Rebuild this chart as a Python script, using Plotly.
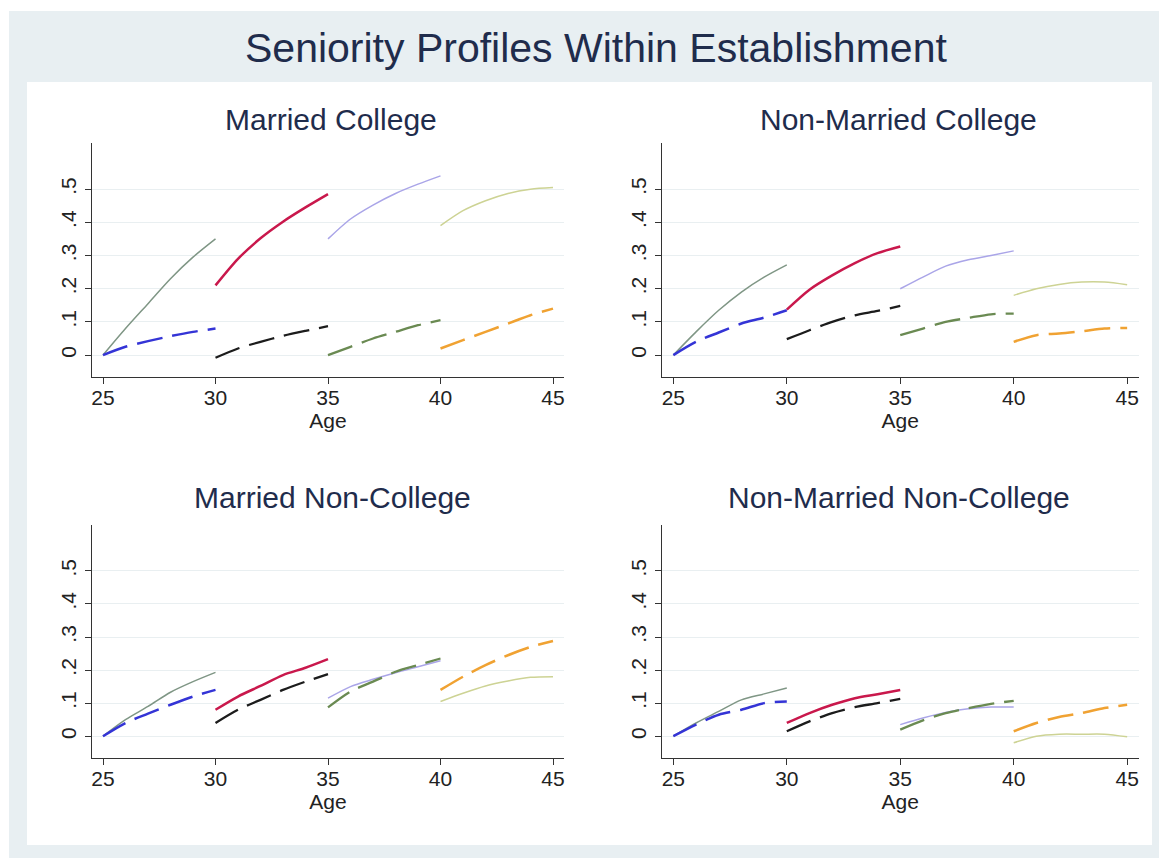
import plotly.graph_objects as go

# ---------------- data ----------------
panel_titles = ["Married College", "Non-Married College",
                "Married Non-College", "Non-Married Non-College"]

ages_25 = [25, 26, 27, 28, 29, 30]
ages_30 = [30, 31, 32, 33, 34, 35]
ages_35 = [35, 36, 37, 38, 39, 40]
ages_40 = [40, 41, 42, 43, 44, 45]

x_ticks = [25, 30, 35, 40, 45]
y_ticks = [0, 0.1, 0.2, 0.3, 0.4, 0.5]
y_tick_labels = ["0", ".1", ".2", ".3", ".4", ".5"]

# Married College
mc_s25 = [0.0, 0.08, 0.155, 0.23, 0.295, 0.35]
mc_d25 = [0.0, 0.025, 0.042, 0.057, 0.07, 0.08]
mc_s30 = [0.21, 0.29, 0.352, 0.402, 0.445, 0.485]
mc_d30 = [-0.008, 0.02, 0.04, 0.058, 0.073, 0.087]
mc_s35 = [0.35, 0.41, 0.452, 0.487, 0.515, 0.54]
mc_d35 = [0.0, 0.025, 0.05, 0.07, 0.09, 0.105]
mc_s40 = [0.39, 0.435, 0.465, 0.487, 0.5, 0.505]
mc_d40 = [0.02, 0.045, 0.07, 0.095, 0.12, 0.14]

# Non-Married College
nc_s25 = [0.0, 0.07, 0.135, 0.19, 0.235, 0.272]
nc_d25 = [0.0, 0.04, 0.068, 0.095, 0.113, 0.135]
nc_s30 = [0.137, 0.197, 0.24, 0.277, 0.307, 0.327]
nc_d30 = [0.048, 0.075, 0.1, 0.12, 0.133, 0.148]
nc_s35 = [0.2, 0.235, 0.268, 0.287, 0.3, 0.314]
nc_d35 = [0.06, 0.08, 0.1, 0.112, 0.123, 0.125]
nc_s40 = [0.18, 0.2, 0.213, 0.22, 0.22, 0.212]
nc_d40 = [0.04, 0.06, 0.065, 0.072, 0.08, 0.082]

# Married Non-College
mn_s25 = [0.0, 0.05, 0.09, 0.133, 0.165, 0.193]
mn_d25 = [0.0, 0.04, 0.068, 0.095, 0.12, 0.14]
mn_s30 = [0.08, 0.12, 0.152, 0.185, 0.207, 0.233]
mn_d30 = [0.04, 0.08, 0.11, 0.14, 0.165, 0.188]
mn_s35 = [0.115, 0.15, 0.172, 0.192, 0.21, 0.228]
mn_d35 = [0.087, 0.135, 0.165, 0.195, 0.215, 0.235]
mn_s40 = [0.105, 0.13, 0.152, 0.167, 0.178, 0.18]
mn_d40 = [0.14, 0.18, 0.215, 0.245, 0.27, 0.288]

# Non-Married Non-College
nn_s25 = [0.0, 0.04, 0.075, 0.11, 0.128, 0.146]
nn_d25 = [0.0, 0.035, 0.065, 0.08, 0.1, 0.105]
nn_s30 = [0.04, 0.07, 0.095, 0.115, 0.127, 0.14]
nn_d30 = [0.015, 0.045, 0.07, 0.088, 0.1, 0.113]
nn_s35 = [0.035, 0.055, 0.072, 0.083, 0.088, 0.088]
nn_d35 = [0.02, 0.048, 0.07, 0.085, 0.098, 0.107]
nn_s40 = [-0.02, 0.0, 0.006, 0.006, 0.006, -0.002]
nn_d40 = [0.015, 0.04, 0.058, 0.07, 0.085, 0.095]

panels = [
    [mc_s25, mc_d25, mc_s30, mc_d30, mc_s35, mc_d35, mc_s40, mc_d40],
    [nc_s25, nc_d25, nc_s30, nc_d30, nc_s35, nc_d35, nc_s40, nc_d40],
    [mn_s25, mn_d25, mn_s30, mn_d30, mn_s35, mn_d35, mn_s40, mn_d40],
    [nn_s25, nn_d25, nn_s30, nn_d30, nn_s35, nn_d35, nn_s40, nn_d40],
]
seg_ages = [ages_25, ages_25, ages_30, ages_30, ages_35, ages_35, ages_40, ages_40]

# ---------------- styles ----------------
seg_styles = [
    dict(color="#7f9685", width=1.5, dash="solid"),
    dict(color="#3434d6", width=2.5, dash="26px,10px"),
    dict(color="#c9184c", width=2.5, dash="solid"),
    dict(color="#1c1c1c", width=2.3, dash="26px,10px"),
    dict(color="#aaa5e8", width=1.5, dash="solid"),
    dict(color="#6a8a52", width=2.3, dash="26px,10px"),
    dict(color="#cdd394", width=1.5, dash="solid"),
    dict(color="#f0a232", width=2.5, dash="26px,10px"),
]

OFF = 8  # page body margin
W, H = 1167 - OFF, 858 - OFF

def px_x(a, b):
    return [(a - OFF) / W, (b - OFF) / W]

def px_y(top, bottom):
    return [1 - (bottom - OFF) / H, 1 - (top - OFF) / H]

x_domains = [px_x(91.75, 564.25), px_x(662, 1138.5), px_x(91.75, 564.25), px_x(662, 1138.5)]
y_domains = [px_y(143, 377), px_y(143, 377), px_y(525, 758), px_y(525, 758)]
x_range = [24.5, 45.5]
y_range = [-0.066, 0.639]

fig = go.Figure()

for p in range(4):
    xa = "x" if p == 0 else f"x{p+1}"
    ya = "y" if p == 0 else f"y{p+1}"
    for s in range(8):
        st = seg_styles[s]
        fig.add_trace(go.Scatter(
            x=seg_ages[s], y=panels[p][s], mode="lines",
            line=dict(color=st["color"], width=st["width"], dash=st["dash"],
                      shape="spline", smoothing=0.8),
            xaxis=xa, yaxis=ya, showlegend=False, hoverinfo="skip"))

FONT = "Liberation Sans, Arial, sans-serif"
axis_font = dict(family=FONT, size=21, color="#222222")
layout = dict(
    width=W, height=H,
    margin=dict(l=0, r=0, t=0, b=0),
    paper_bgcolor="#ffffff",
    plot_bgcolor="rgba(0,0,0,0)",
    showlegend=False,
)
for p in range(4):
    xk = "xaxis" if p == 0 else f"xaxis{p+1}"
    yk = "yaxis" if p == 0 else f"yaxis{p+1}"
    xa_id = "x" if p == 0 else f"x{p+1}"
    ya_id = "y" if p == 0 else f"y{p+1}"
    layout[xk] = dict(
        domain=x_domains[p], range=x_range, anchor=ya_id,
        tickmode="array", tickvals=x_ticks, ticktext=[str(t) for t in x_ticks],
        showline=True, linecolor="#333333", linewidth=1.3,
        ticks="outside", ticklen=6, tickcolor="#333333", tickwidth=1.2,
        ticklabelstandoff=-4,
        showgrid=False, zeroline=False, tickfont=axis_font,
        title=dict(text="Age", font=dict(family=FONT, size=21, color="#222222"), standoff=0),
        fixedrange=True,
    )
    layout[yk] = dict(
        domain=y_domains[p], range=y_range, anchor=xa_id,
        tickmode="array", tickvals=y_ticks, ticktext=y_tick_labels,
        tickangle=-90,
        showline=True, linecolor="#333333", linewidth=1.3,
        ticks="outside", ticklen=6, tickcolor="#333333", tickwidth=1.2,
        showgrid=True, gridcolor="#e9eff1", gridwidth=1.2,
        zeroline=False, tickfont=axis_font, fixedrange=True,
    )
fig.update_layout(**layout)

shapes = [
    dict(type="rect", xref="paper", yref="paper",
         x0=(9 - OFF) / W, x1=1.0, y0=0, y1=1 - (11 - OFF) / H,
         fillcolor="#e8eff2", line=dict(width=0), layer="below"),
    dict(type="rect", xref="paper", yref="paper",
         x0=(27 - OFF) / W, x1=(1152 - OFF) / W, y0=1 - (845 - OFF) / H, y1=1 - (82 - OFF) / H,
         fillcolor="#ffffff", line=dict(width=0), layer="below"),
]
fig.update_layout(shapes=shapes)

title_color = "#1f2c4c"
annotations = [
    dict(text="Seniority Profiles Within Establishment", xref="paper", yref="paper",
         x=(596 - OFF) / W, y=1 - (48 - OFF) / H, xanchor="center", yanchor="middle",
         showarrow=False, font=dict(family=FONT, size=41, color=title_color)),
]
title_pos = [(331, 119), (898, 119), (333, 498), (899, 498)]
for p in range(4):
    annotations.append(dict(
        text=panel_titles[p], xref="paper", yref="paper",
        x=(title_pos[p][0] - OFF) / W, y=1 - (title_pos[p][1] - OFF) / H,
        xanchor="center", yanchor="middle", showarrow=False,
        font=dict(family=FONT, size=30, color=title_color)))
fig.update_layout(annotations=annotations)

fig.write_html("out.html")
